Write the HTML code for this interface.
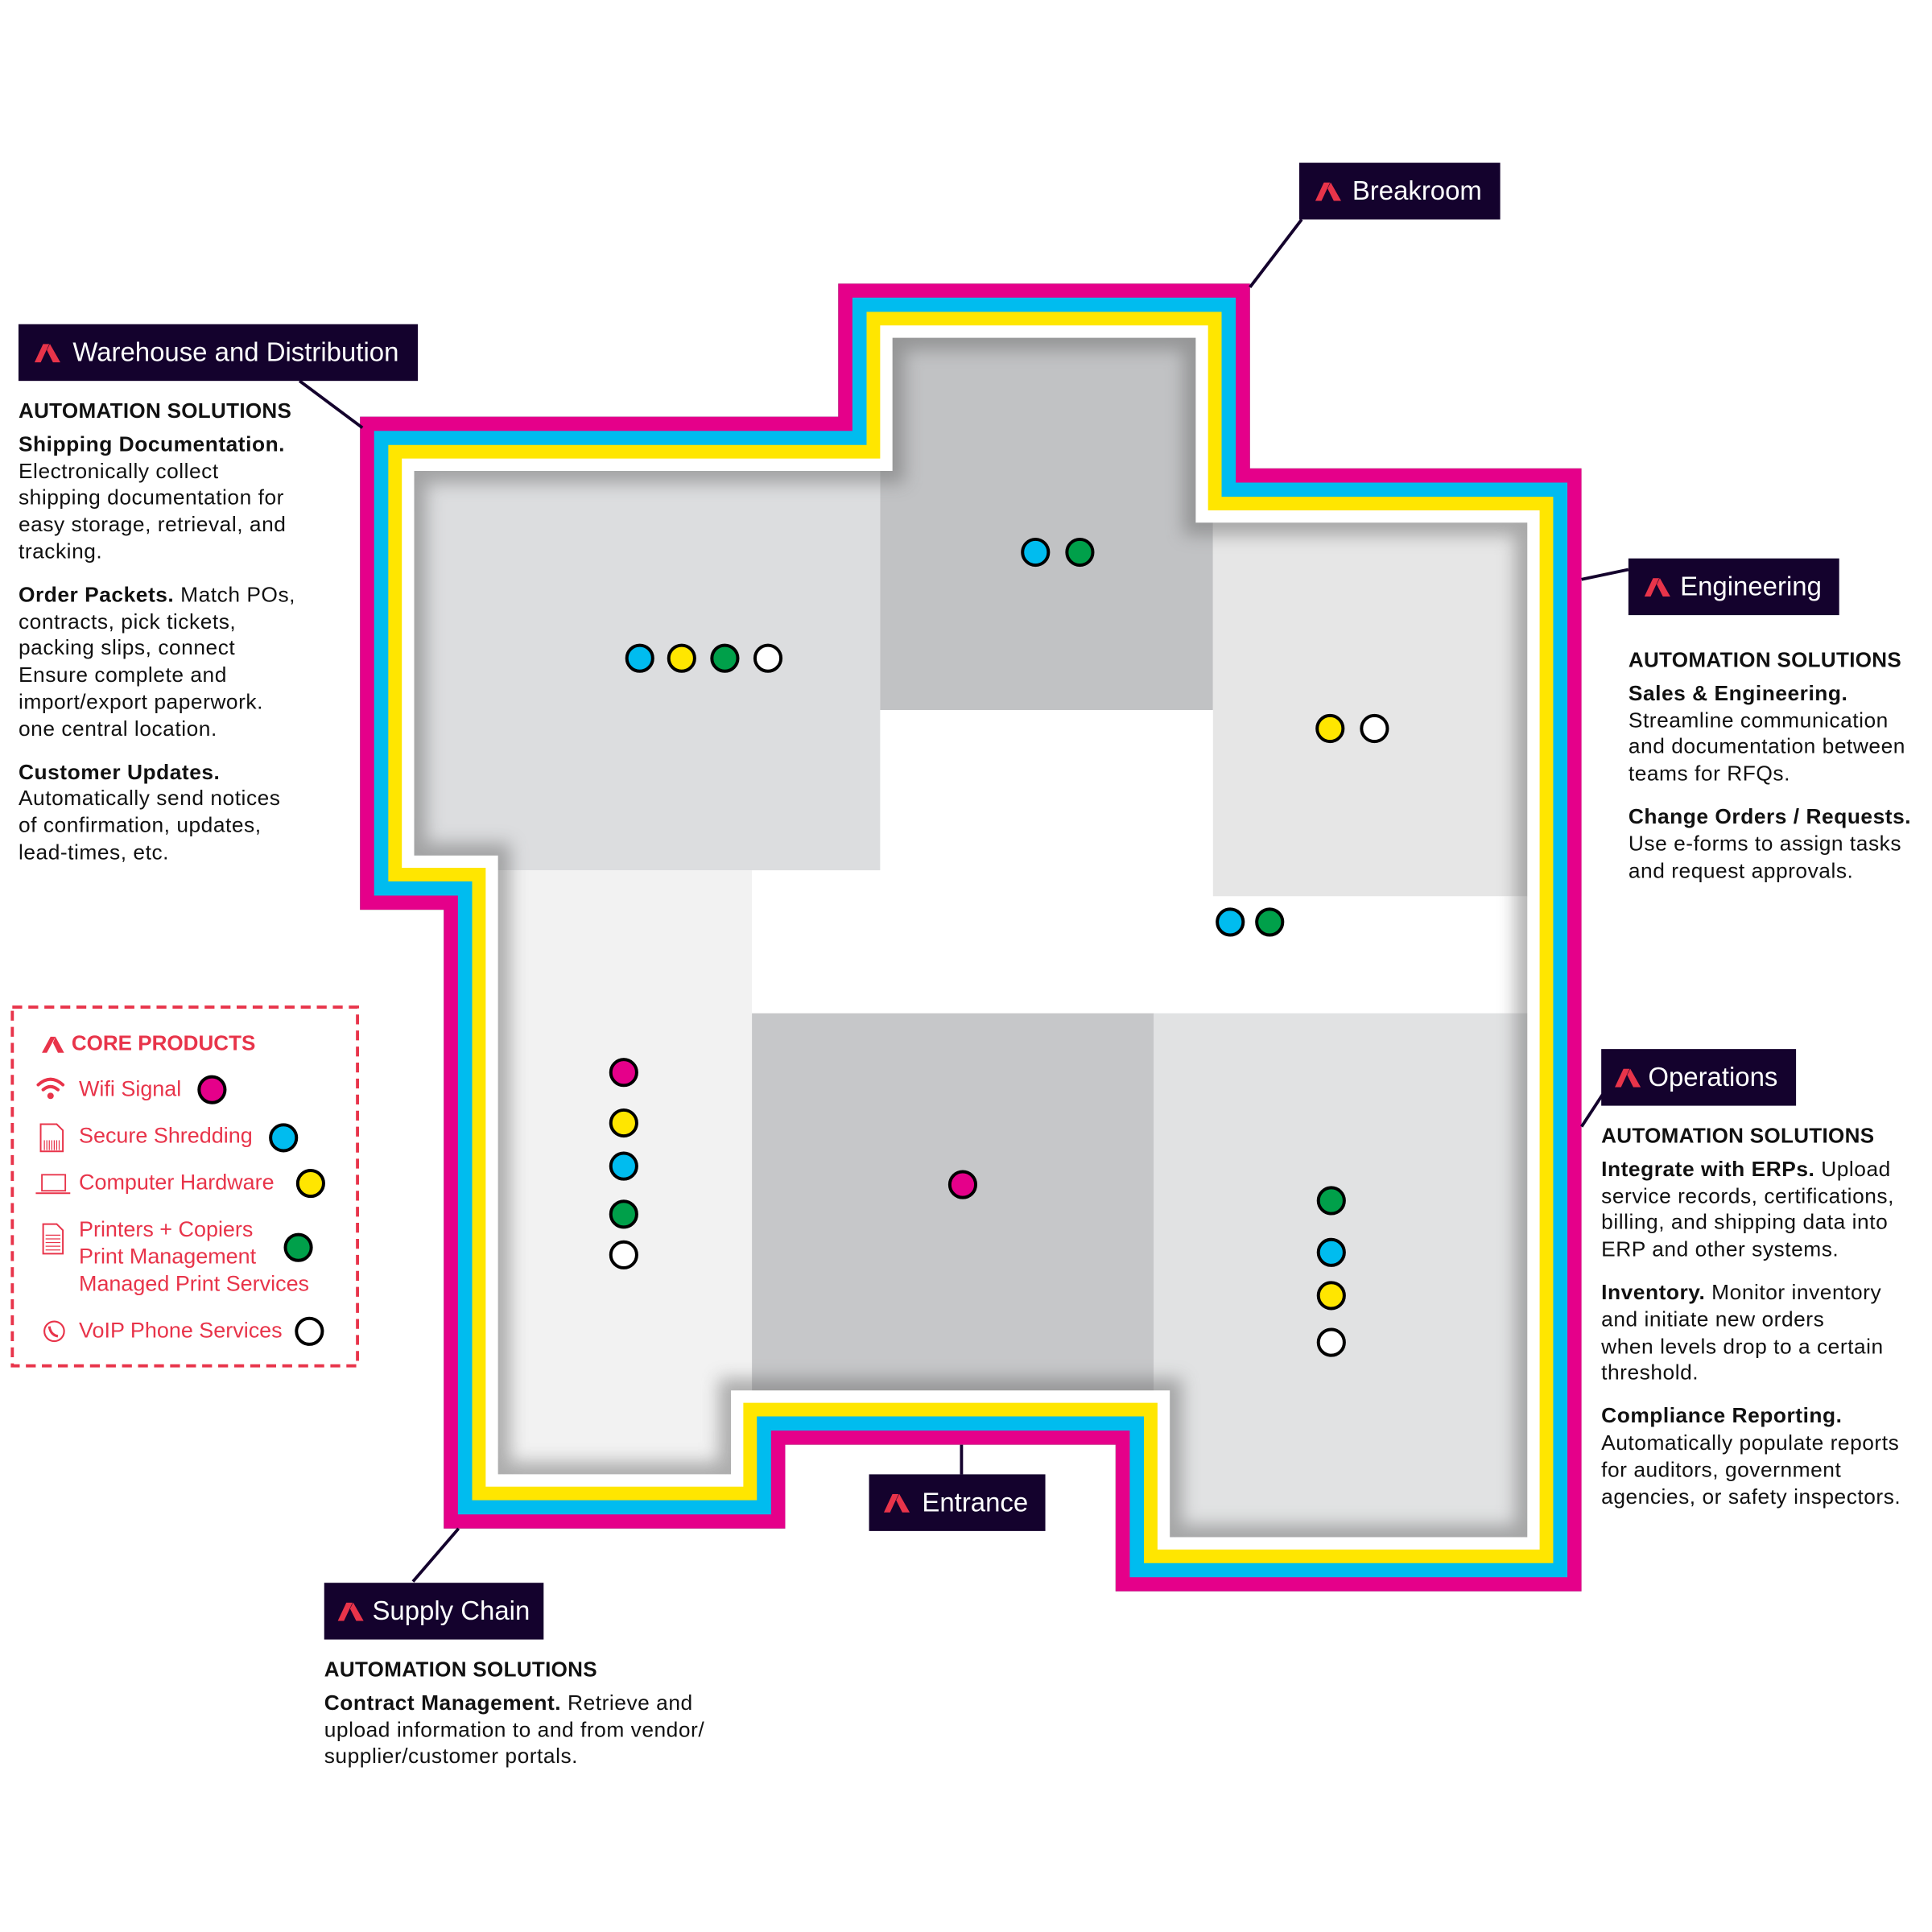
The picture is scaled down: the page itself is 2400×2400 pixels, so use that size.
<!DOCTYPE html>
<html><head><meta charset="utf-8">
<style>
html,body{margin:0;padding:0;background:#fff;}
#wrap{position:relative;width:2400px;height:2400px;overflow:hidden;background:#fff;}
#s{position:absolute;left:0;top:0;width:1560px;height:1560px;transform:scale(1.5313);transform-origin:0 0;font-family:"Liberation Sans",sans-serif;color:#111;}
.lbl{position:absolute;background:#14022d;color:#fff;font-size:21.5px;line-height:46px;height:46px;white-space:nowrap;box-sizing:border-box;}
.lbl svg{position:absolute;top:16px;}
.lbl span{position:absolute;top:0;}
.blk{position:absolute;font-size:17.2px;line-height:21.8px;white-space:nowrap;letter-spacing:0.35px;}
.blk .h{font-weight:bold;font-size:17px;margin-bottom:5px;letter-spacing:0.2px}
.blk p{margin:0 0 13px 0;}
.cp{position:absolute;color:#e8344a;font-size:17.6px;white-space:nowrap;line-height:22px;}
</style></head><body>
<div id="wrap"><div id="s">
<svg width="1560" height="1560" style="position:absolute;left:0;top:0">
<defs>
<clipPath id="c"><path d="M292,338 H680 V230 H1014 V380 H1283 V1291 H905 V1172 H637 V1240 H360 V738 H292 Z"/></clipPath>
<filter id="b" x="-10%" y="-10%" width="120%" height="120%"><feGaussianBlur stdDeviation="7"/></filter>
</defs>
<g clip-path="url(#c)">
<rect x="0" y="0" width="1560" height="1560" fill="#fff"/>
<rect x="300" y="300" width="414" height="406" fill="#dcdddf"/>
<rect x="714" y="230" width="270" height="346" fill="#c1c2c4"/>
<rect x="984" y="380" width="300" height="347" fill="#e6e6e6"/>
<rect x="360" y="706" width="250" height="540" fill="#f2f2f2"/>
<rect x="610" y="822" width="326" height="350" fill="#c6c7c9"/>
<rect x="936" y="822" width="350" height="470" fill="#e1e2e3"/>
<path d="M292,338 H680 V230 H1014 V380 H1283 V1291 H905 V1172 H637 V1240 H360 V738 H292 Z" fill="none" stroke="#6a6a6a" stroke-width="108" opacity="0.5" filter="url(#b)"/>
<g fill="none" stroke-linejoin="miter" stroke-miterlimit="10">
<path d="M292,338 H680 V230 H1014 V380 H1283 V1291 H905 V1172 H637 V1240 H360 V738 H292 Z" stroke="#fff" stroke-width="88"/>
<path d="M292,338 H680 V230 H1014 V380 H1283 V1291 H905 V1172 H637 V1240 H360 V738 H292 Z" stroke="#ffe600" stroke-width="68"/>
<path d="M292,338 H680 V230 H1014 V380 H1283 V1291 H905 V1172 H637 V1240 H360 V738 H292 Z" stroke="#00bcef" stroke-width="46"/>
<path d="M292,338 H680 V230 H1014 V380 H1283 V1291 H905 V1172 H637 V1240 H360 V738 H292 Z" stroke="#e5008a" stroke-width="23"/>
</g>
</g>
<g stroke="#14022d" stroke-width="2.5">
<line x1="1056" y1="178" x2="1014" y2="233"/>
<line x1="243" y1="309" x2="294" y2="347"/>
<line x1="1283" y1="470" x2="1321" y2="462"/>
<line x1="1300" y1="888" x2="1283" y2="914"/>
<line x1="780" y1="1172" x2="780" y2="1196"/>
<line x1="372" y1="1240" x2="335" y2="1283"/>
</g>
<g stroke="#000" stroke-width="2.6">
<circle cx="519" cy="534" r="10.5" fill="#00bcef"/>
<circle cx="553" cy="534" r="10.5" fill="#ffe600"/>
<circle cx="588" cy="534" r="10.5" fill="#00a04a"/>
<circle cx="623" cy="534" r="10.5" fill="#fff"/>
<circle cx="840" cy="448" r="10.5" fill="#00bcef"/>
<circle cx="876" cy="448" r="10.5" fill="#00a04a"/>
<circle cx="1079" cy="591" r="10.5" fill="#ffe600"/>
<circle cx="1115" cy="591" r="10.5" fill="#fff"/>
<circle cx="998" cy="748" r="10.5" fill="#00bcef"/>
<circle cx="1030" cy="748" r="10.5" fill="#00a04a"/>
<circle cx="506" cy="870" r="10.5" fill="#e5008a"/>
<circle cx="506" cy="911" r="10.5" fill="#ffe600"/>
<circle cx="506" cy="946" r="10.5" fill="#00bcef"/>
<circle cx="506" cy="985" r="10.5" fill="#00a04a"/>
<circle cx="506" cy="1018" r="10.5" fill="#fff"/>
<circle cx="781" cy="961" r="10.5" fill="#e5008a"/>
<circle cx="1080" cy="974" r="10.5" fill="#00a04a"/>
<circle cx="1080" cy="1016" r="10.5" fill="#00bcef"/>
<circle cx="1080" cy="1051" r="10.5" fill="#ffe600"/>
<circle cx="1080" cy="1089" r="10.5" fill="#fff"/>
<circle cx="172" cy="884" r="10.5" fill="#e5008a"/>
<circle cx="230" cy="923" r="10.5" fill="#00bcef"/>
<circle cx="252" cy="960" r="10.5" fill="#ffe600"/>
<circle cx="242" cy="1012" r="10.5" fill="#00a04a"/>
<circle cx="251" cy="1080" r="10.5" fill="#fff"/>
</g>
<rect x="10" y="817" width="280" height="291" fill="none" stroke="#e8344a" stroke-width="2.5" stroke-dasharray="8,5"/>
<polygon points="34,854 41,841 45,841 38,854" fill="#e8344a"/>
<polygon points="43,846 45,841 52,854 47,854" fill="#e8344a"/>
<g fill="none" stroke="#e8344a" stroke-width="2.6" stroke-linecap="round">
<path d="M31,880 Q41,871 51,880"/><path d="M35,884 Q41,879 47,884"/>
</g>
<circle cx="41" cy="889" r="2.6" fill="#e8344a"/>
<path d="M33,912 H46 L51,917 V934 H33 Z" fill="none" stroke="#e8344a" stroke-width="1.3"/>
<g stroke="#e8344a" stroke-width="0.8"><line x1="36" y1="925" x2="36" y2="933"/><line x1="38" y1="925" x2="38" y2="933"/><line x1="40" y1="925" x2="40" y2="933"/><line x1="42" y1="925" x2="42" y2="933"/><line x1="44" y1="925" x2="44" y2="933"/><line x1="46" y1="925" x2="46" y2="933"/><line x1="48" y1="925" x2="48" y2="933"/></g>
<rect x="34" y="953" width="19" height="13" fill="none" stroke="#e8344a" stroke-width="1.2"/>
<line x1="29" y1="968" x2="57" y2="968" stroke="#e8344a" stroke-width="1.3"/>
<path d="M35,993 H46 L51,998 V1017 H35 Z" fill="none" stroke="#e8344a" stroke-width="1.3"/>
<g stroke="#e8344a" stroke-width="0.8"><line x1="37" y1="1002" x2="49" y2="1002"/><line x1="37" y1="1005" x2="49" y2="1005"/><line x1="37" y1="1008" x2="49" y2="1008"/><line x1="37" y1="1011" x2="49" y2="1011"/><line x1="37" y1="1014" x2="49" y2="1014"/></g>
<circle cx="44" cy="1080" r="8" fill="none" stroke="#e8344a" stroke-width="1.4"/>
<path d="M40,1076 Q41,1083 47,1084" fill="none" stroke="#e8344a" stroke-width="2"/>
</svg>

<div class="cp" style="left:58px;top:836px;font-weight:bold;font-size:17px">CORE PRODUCTS</div>
<div class="cp" style="left:64px;top:872px">Wifi Signal</div>
<div class="cp" style="left:64px;top:910px">Secure Shredding</div>
<div class="cp" style="left:64px;top:948px">Computer Hardware</div>
<div class="cp" style="left:64px;top:986px">Printers + Copiers<br>Print Management<br>Managed Print Services</div>
<div class="cp" style="left:64px;top:1068px">VoIP Phone Services</div>

<div class="lbl" style="left:1054px;top:132px;width:163px"><svg width="22" height="15" style="left:13px"><polygon points="0,15 7,0 12,0 5,15" fill="#e8344a"/><polygon points="10,5 12.5,0 21,15 15,15" fill="#e8344a"/></svg><span style="left:43px">Breakroom</span></div>
<div class="lbl" style="left:15px;top:263px;width:324px"><svg width="22" height="15" style="left:13px"><polygon points="0,15 7,0 12,0 5,15" fill="#e8344a"/><polygon points="10,5 12.5,0 21,15 15,15" fill="#e8344a"/></svg><span style="left:44px">Warehouse and Distribution</span></div>
<div class="lbl" style="left:1321px;top:453px;width:171px"><svg width="22" height="15" style="left:13px"><polygon points="0,15 7,0 12,0 5,15" fill="#e8344a"/><polygon points="10,5 12.5,0 21,15 15,15" fill="#e8344a"/></svg><span style="left:42px">Engineering</span></div>
<div class="lbl" style="left:1299px;top:851px;width:158px"><svg width="22" height="15" style="left:11px"><polygon points="0,15 7,0 12,0 5,15" fill="#e8344a"/><polygon points="10,5 12.5,0 21,15 15,15" fill="#e8344a"/></svg><span style="left:38px">Operations</span></div>
<div class="lbl" style="left:705px;top:1196px;width:143px"><svg width="22" height="15" style="left:12px"><polygon points="0,15 7,0 12,0 5,15" fill="#e8344a"/><polygon points="10,5 12.5,0 21,15 15,15" fill="#e8344a"/></svg><span style="left:43px">Entrance</span></div>
<div class="lbl" style="left:263px;top:1284px;width:178px"><svg width="22" height="15" style="left:11px"><polygon points="0,15 7,0 12,0 5,15" fill="#e8344a"/><polygon points="10,5 12.5,0 21,15 15,15" fill="#e8344a"/></svg><span style="left:39px">Supply Chain</span></div>

<div class="blk" style="left:15px;top:323px">
<div class="h">AUTOMATION SOLUTIONS</div>
<p><b>Shipping Documentation.</b><br>Electronically collect<br>shipping documentation for<br>easy storage, retrieval, and<br>tracking.</p>
<p><b>Order Packets.</b> Match POs,<br>contracts, pick tickets,<br>packing slips, connect<br>Ensure complete and<br>import/export paperwork.<br>one central location.</p>
<p><b>Customer Updates.</b><br>Automatically send notices<br>of confirmation, updates,<br>lead-times, etc.</p>
</div>

<div class="blk" style="left:1321px;top:525px">
<div class="h">AUTOMATION SOLUTIONS</div>
<p><b>Sales &amp; Engineering.</b><br>Streamline communication<br>and documentation between<br>teams for RFQs.</p>
<p><b>Change Orders / Requests.</b><br>Use e-forms to assign tasks<br>and request approvals.</p>
</div>

<div class="blk" style="left:1299px;top:911px">
<div class="h">AUTOMATION SOLUTIONS</div>
<p><b>Integrate with ERPs.</b> Upload<br>service records, certifications,<br>billing, and shipping data into<br>ERP and other systems.</p>
<p><b>Inventory.</b> Monitor inventory<br>and initiate new orders<br>when levels drop to a certain<br>threshold.</p>
<p><b>Compliance Reporting.</b><br>Automatically populate reports<br>for auditors, government<br>agencies, or safety inspectors.</p>
</div>

<div class="blk" style="left:263px;top:1344px">
<div class="h">AUTOMATION SOLUTIONS</div>
<p><b>Contract Management.</b> Retrieve and<br>upload information to and from vendor/<br>supplier/customer portals.</p>
</div>
</div></div>
</body></html>
